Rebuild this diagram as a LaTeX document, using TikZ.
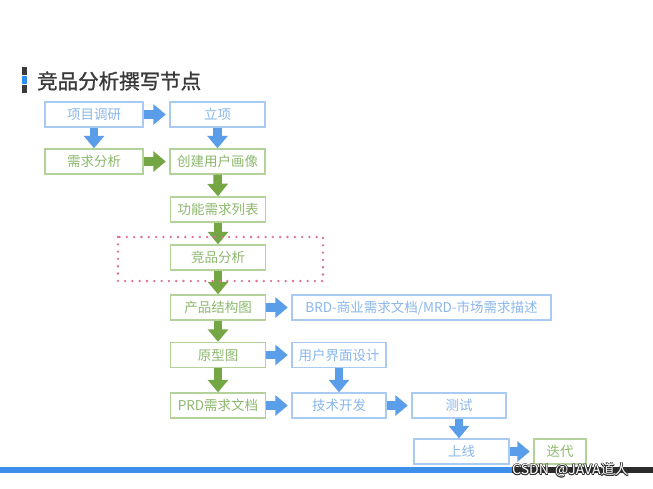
\documentclass[tikz,border=0pt]{standalone}
\usepackage{fontspec}
\setmainfont{Noto Sans CJK SC}
\newfontfamily\cjkfont{Noto Sans CJK SC}
\newfontfamily\titlefont[FakeBold=1.1]{Noto Sans CJK SC}
\usetikzlibrary{arrows.meta}
\definecolor{bborder}{HTML}{A9CAF2}
\definecolor{btext}{HTML}{8AB7EC}
\definecolor{gborder}{HTML}{B3D29A}
\definecolor{gtext}{HTML}{8DB86E}
\definecolor{barrow}{HTML}{5A9EEA}
\definecolor{garrow}{HTML}{74A744}
\definecolor{dotpink}{HTML}{DD6E90}
\definecolor{titlegray}{HTML}{3A3A3A}
\definecolor{iconblue}{HTML}{2F8FF0}
\definecolor{barblue}{HTML}{3D8EEA}
\definecolor{bardark}{HTML}{2B2B2B}
\tikzset{
  boxbase/.style={draw, line width=1.4pt, minimum height=25pt, inner sep=0pt, font=\cjkfont\fontsize{13.5pt}{14pt}\selectfont, anchor=center},
  bbox/.style={boxbase, draw=bborder, text=btext},
  gbox/.style={boxbase, draw=gborder, text=gtext},
  arrbase/.style={line width=8.5pt, line cap=butt, -{Triangle[width=20pt,length=12.5pt]}},
  barr/.style={arrbase, draw=barrow, fill=barrow},
  garr/.style={arrbase, draw=garrow, fill=garrow},
}
\begin{document}
\begin{tikzpicture}[x=1pt,y=-1pt]
\useasboundingbox (0,0) rectangle (653,488);
\fill[white] (0,0) rectangle (653,488);
% title icon
\fill[titlegray] (22,67) rectangle (27,75);
\fill[iconblue] (22,76) rectangle (27,84);
\fill[titlegray] (22,85) rectangle (27,93);
\node[anchor=west, inner sep=0pt, text=titlegray, font=\titlefont\fontsize{20.5pt}{22pt}\selectfont] (title) at (37,81) {竞品分析撰写节点};
% boxes
\node[bbox, minimum width=98pt] (xm) at (94,114.5) {项目调研};
\node[bbox, minimum width=95pt] (lx) at (217.5,114.5) {立项};
\node[gbox, minimum width=98pt] (xq) at (94,161.5) {需求分析};
\node[gbox, minimum width=95pt] (hx) at (217.5,161.5) {创建用户画像};
\node[gbox, minimum width=95pt] (gn) at (218,209.5) {功能需求列表};
\node[gbox, minimum width=95pt] (jp) at (218,257.5) {竞品分析};
\node[gbox, minimum width=95pt] (cp) at (218,307.5) {产品结构图};
\node[bbox, minimum width=259pt] (brd) at (421.5,307.5) {BRD-商业需求文档/MRD-市场需求描述};
\node[gbox, minimum width=95pt] (yx) at (218,355) {原型图};
\node[bbox, minimum width=94pt] (ui) at (339,355) {用户界面设计};
\node[gbox, minimum width=95pt] (prd) at (218,405.5) {PRD需求文档};
\node[bbox, minimum width=94pt] (js) at (339,405.5) {技术开发};
\node[bbox, minimum width=94pt] (cs) at (459,405.5) {测试};
\node[bbox, minimum width=95pt] (sx) at (461.5,451.5) {上线};
\node[gbox, minimum width=52pt] (dd) at (560,451.5) {迭代};
% arrows
\draw[barr, shorten >=3.5pt] (xm.east) -- (lx.west);
\draw[barr] (xm.south) -- (xq.north);
\draw[barr] (lx.south) -- (hx.north);
\draw[garr, shorten >=3.5pt] (xq.east) -- (hx.west);
\draw[garr] (hx.south) -- (gn.north);
\draw[garr] (gn.south) -- (jp.north);
\draw[garr] (jp.south) -- (cp.north);
\draw[barr, shorten >=3.5pt] (cp.east) -- (brd.west);
\draw[garr] (cp.south) -- (yx.north);
\draw[barr, shorten >=3.5pt] (yx.east) -- (ui.west);
\draw[barr] (ui.south) -- (js.north);
\draw[garr] (yx.south) -- (prd.north);
\draw[barr, shorten >=3.5pt] (prd.east) -- (js.west);
\draw[barr, shorten >=3.5pt] (js.east) -- (cs.west);
\draw[barr] (cs.south) -- (cs.south |- sx.north);
\draw[barr, shorten >=3.5pt] (sx.east) -- (dd.west);
% dotted highlight
\draw[dotpink, line width=2.6pt, line cap=round, dash pattern=on 0pt off 7.3pt] (118,237) rectangle (323,281);
% bottom bar
\fill[barblue] (0,467) rectangle (512,473);
\fill[bardark] (512,467) rectangle (653,473);
% watermark
\foreach \dx/\dy in {-0.7/0,0.7/0,0/-0.7,0/0.7,-0.5/-0.5,0.5/0.5,-0.5/0.5,0.5/-0.5}
  \node[anchor=west, inner sep=0pt, text=bardark, font=\cjkfont\fontsize{14pt}{15pt}\selectfont] at (512+\dx,470+\dy) {CSDN\ \ @JAVA道人};
\node[anchor=west, inner sep=0pt, text=white, font=\cjkfont\fontsize{14pt}{15pt}\selectfont] (wm) at (512,470) {CSDN\ \ @JAVA道人};
\end{tikzpicture}
\end{document}
